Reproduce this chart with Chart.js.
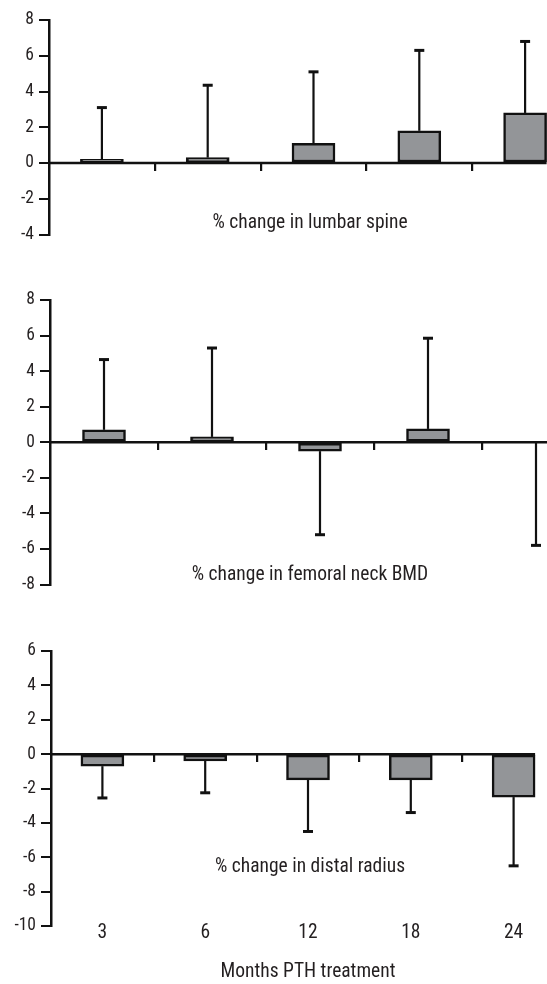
<!DOCTYPE html>
<html>
<head>
<meta charset="utf-8">
<script src="https://cdn.jsdelivr.net/npm/chart.js@4.4.1/dist/chart.umd.min.js"></script>
<style>
  html, body { margin: 0; padding: 0; background: #fff; }
  body { width: 547px; height: 984px; overflow: hidden; position: relative; }
  canvas { position: absolute; left: 0; }
</style>
</head>
<body>
<canvas id="lumbar" width="578" height="250" style="top:0px"></canvas>
<canvas id="femoral" width="590" height="320" style="top:280px"></canvas>
<canvas id="radius" width="565" height="354" style="top:630px"></canvas>
<script>
// Months of PTH treatment (shared categories)
const months = ['3', '6', '12', '18', '24'];

// Lumbar spine: mean % change and end of the SD whisker
const lumbarMean = [0.2, 0.3, 1.1, 1.8, 2.8];
const lumbarErrEnd = [3.1, 4.35, 5.1, 6.3, 6.8];
const lumbarTicks = [-4, -2, 0, 2, 4, 6, 8];

// Femoral neck BMD
const femoralMean = [0.7, 0.3, -0.5, 0.75, 0];
const femoralErrEnd = [4.65, 5.3, -5.2, 5.85, -5.8];
const femoralTicks = [-8, -6, -4, -2, 0, 2, 4, 6, 8];

// Distal radius
const radiusMean = [-0.7, -0.4, -1.5, -1.5, -2.5];
const radiusErrEnd = [-2.55, -2.25, -4.5, -3.4, -6.5];
const radiusTicks = [-10, -8, -6, -4, -2, 0, 2, 4, 6];

const FONT = '"Roboto Condensed", "DejaVu Sans Condensed", sans-serif';
const INK = '#111111';
const TEXT = '#231f20';
const BAR_FILL = '#939598';

// zero line (ends at the last bar) and the panel caption
const panelDecor = {
    id: 'panelDecor',
    afterDatasetsDraw(chart, args, opts) {
        const ctx = chart.ctx;
        const area = chart.chartArea;
        const y0 = chart.scales.y.getPixelForValue(0);
        const meta = chart.getDatasetMeta(0);
        const last = meta.data[meta.data.length - 1];
        const xEnd = last.x + last.width / 2;

        ctx.save();
        ctx.strokeStyle = INK;
        ctx.lineWidth = 2.5;
        ctx.beginPath();
        ctx.moveTo(area.left, y0);
        ctx.lineTo(xEnd, y0);
        ctx.stroke();

        ctx.fillStyle = TEXT;
        ctx.font = '19.5px ' + FONT;
        ctx.textAlign = 'center';
        ctx.textBaseline = 'alphabetic';
        ctx.fillText(opts.text, opts.x, opts.y);
        ctx.restore();
    }
};

// one-sided SD whiskers
const errorBars = {
    id: 'errorBars',
    afterDatasetsDraw(chart) {
        const ctx = chart.ctx;
        const yScale = chart.scales.y;
        const ends = chart.data.datasets[0].errEnd;
        const meta = chart.getDatasetMeta(0);

        ctx.save();
        ctx.strokeStyle = INK;
        meta.data.forEach((bar, i) => {
            const yTo = yScale.getPixelForValue(ends[i]);
            ctx.lineWidth = 2.2;
            ctx.beginPath();
            ctx.moveTo(bar.x, bar.y);
            ctx.lineTo(bar.x, yTo);
            ctx.stroke();
            ctx.lineWidth = 3;
            ctx.beginPath();
            ctx.moveTo(bar.x - 5, yTo);
            ctx.lineTo(bar.x + 5, yTo);
            ctx.stroke();
        });
        ctx.restore();
    }
};

function makePanel(id, mean, errEnd, ticks, caption, layout) {
    const scales = {
        x: {
            type: 'category',
            position: { y: 0 },
            offset: true,
            border: { display: false },
            grid: {
                offset: true,
                drawOnChartArea: false,
                drawTicks: true,
                tickLength: 8,
                lineWidth: 2.2,
                tickColor: (c) => (c.index > 0 ? INK : 'rgba(0,0,0,0)')
            },
            ticks: { display: false }
        },
        y: {
            type: 'linear',
            min: ticks[0],
            max: ticks[ticks.length - 1],
            afterBuildTicks: (s) => { s.ticks = ticks.map(v => ({ value: v })); },
            afterFit: (s) => { s.width = layout.yWidth; },
            border: { display: true, color: INK, width: 2.5 },
            grid: {
                drawOnChartArea: false,
                drawTicks: true,
                tickLength: 10,
                lineWidth: 2,
                color: INK
            },
            ticks: {
                padding: 5,
                color: TEXT,
                font: { family: FONT, size: 17.5 }
            }
        }
    };

    if (layout.showMonths) {
        // month labels hang just under the lowest y tick
        scales.x2 = {
            type: 'category',
            labels: months,
            position: { y: ticks[0] },
            offset: true,
            border: { display: false },
            grid: { display: false, drawTicks: false },
            ticks: {
                padding: -5,
                color: TEXT,
                font: { family: FONT, size: 19.5 }
            },
            title: {
                display: true,
                text: 'Months PTH treatment',
                color: TEXT,
                font: { family: FONT, size: 19.5 },
                padding: 0
            },
            afterFit: (s) => { s.height = layout.padBottom; }
        };
    }

    return new Chart(document.getElementById(id), {
        type: 'bar',
        data: {
            labels: months,
            datasets: [{
                data: mean,
                errEnd: errEnd,
                backgroundColor: BAR_FILL,
                borderColor: INK,
                borderWidth: 2.5,
                borderSkipped: false,
                barThickness: 43
            }]
        },
        options: {
            responsive: false,
            animation: false,
            layout: {
                padding: { top: layout.padTop, bottom: layout.padBottom, left: 0, right: 0 }
            },
            scales: scales,
            plugins: {
                legend: { display: false },
                tooltip: { enabled: false },
                panelDecor: caption
            }
        },
        plugins: [panelDecor, errorBars]
    });
}

makePanel('lumbar', lumbarMean, lumbarErrEnd, lumbarTicks,
    { text: '% change in lumbar spine', x: 310, y: 228 },
    { yWidth: 49, padTop: 20, padBottom: 14 });

makePanel('femoral', femoralMean, femoralErrEnd, femoralTicks,
    { text: '% change in femoral neck BMD', x: 310, y: 300 },
    { yWidth: 50, padTop: 20, padBottom: 14 });

makePanel('radius', radiusMean, radiusErrEnd, radiusTicks,
    { text: '% change in distal radius', x: 310, y: 242 },
    { yWidth: 51, padTop: 21, padBottom: 58, showMonths: true });
</script>
</body>
</html>
